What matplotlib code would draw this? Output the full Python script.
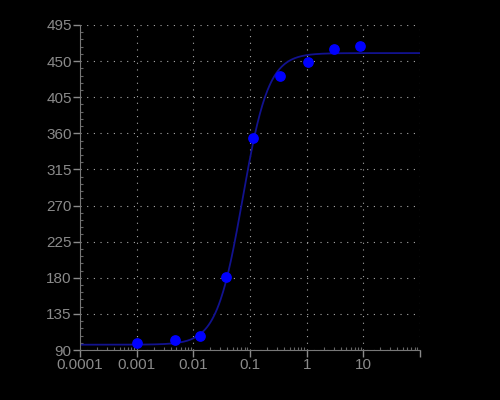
import numpy as np
import matplotlib.pyplot as plt
from matplotlib.ticker import FixedLocator, NullFormatter

# measured points (concentration, response)
conc = [0.001, 0.0047, 0.0131, 0.038, 0.113, 0.34, 1.04, 3.07, 8.8]
resp = [98.5, 102.5, 107.5, 180.5, 354, 431, 449.5, 465, 468.5]

# 4PL fit parameters
bottom, top, ec50, hill = 96.6, 460.0, 0.074, 1.9

x_ticks = [0.0001, 0.001, 0.01, 0.1, 1, 10, 100]
x_labels = ['0.0001', '0.001', '0.01', '0.1', '1', '10', '']
y_ticks = [90, 135, 180, 225, 270, 315, 360, 405, 450, 495]

plt.rcParams['font.family'] = ['Liberation Sans', 'DejaVu Sans']

fig = plt.figure(figsize=(5, 4), dpi=100, facecolor='black')
ax = fig.add_axes([0.16, 0.125, 0.68, 0.8125])
ax.set_facecolor('black')

xs = np.logspace(-4, 2, 400)
ys = bottom + (top - bottom) / (1 + (ec50 / xs) ** hill)
ax.plot(xs, ys, color='#12128f', lw=1.3, zorder=2)
ax.scatter(conc, resp, s=45, color='#0000ff', zorder=3)

ax.set_xscale('log')
ax.set_xlim(0.0001, 100)
ax.set_ylim(90, 495)
ax.set_xticks(x_ticks)
ax.set_xticklabels(x_labels)
ax.set_yticks(y_ticks)
ax.xaxis.set_minor_formatter(NullFormatter())
ax.yaxis.set_minor_locator(FixedLocator(np.arange(90, 496, 9)))

grey = '#8a8a8a'
ax.grid(True, which='major', color='#aaaaaa', linestyle=(0, (1, 5)), lw=0.8)
ax.tick_params(which='major', colors=grey, length=5, width=1, labelsize=11, pad=1)
ax.tick_params(which='minor', colors='#666666', length=2, width=0.8, direction='in')
for side in ['top', 'right']:
    ax.spines[side].set_visible(False)
for side in ['left', 'bottom']:
    ax.spines[side].set_color('#777777')

fig.savefig('out.png', dpi=100, facecolor='black')
